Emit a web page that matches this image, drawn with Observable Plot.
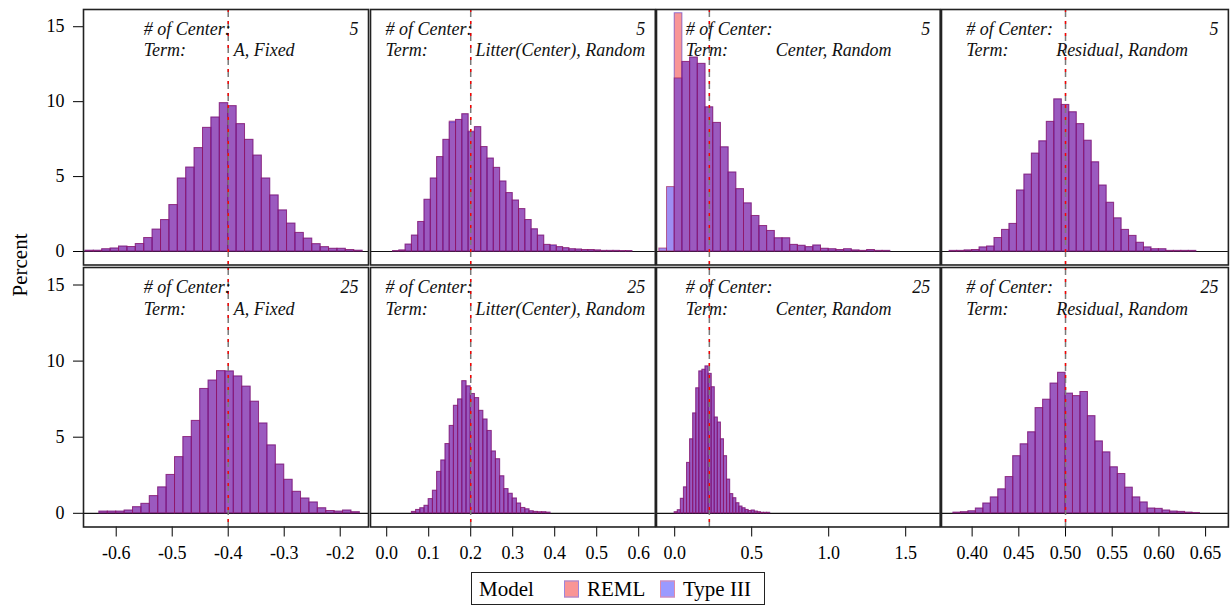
<!DOCTYPE html>
<html><head><meta charset="utf-8">
<script src="https://cdn.jsdelivr.net/npm/d3@7"></script>
<script src="https://cdn.jsdelivr.net/npm/@observablehq/plot@0.6"></script>
</head><body style="margin:0;background:#fff;font-family:'Liberation Serif',serif">
<div id="chart" style="position:relative;width:1231px;height:606px;color:#000;font-family:'Liberation Serif',serif">
<div id="ylab" style="position:absolute;left:20px;top:265px;transform:translate(-50%,-50%) rotate(-90deg);font-size:21px;white-space:nowrap;font-family:'Liberation Serif',serif">Percent</div>
<div id="legend" style="position:absolute;left:471px;top:572px;width:294px;height:33px;border:1.5px solid #222;box-sizing:border-box;font-size:21px;font-family:'Liberation Serif',serif"></div>
</div>
<script>
// ---------- data ----------
const terms = ["A, Fixed", "Litter(Center), Random", "Center, Random", "Residual, Random"];
const centerCounts = [5, 25];
const models = ["REML", "Type III"];
const trueValues = [-0.4, 0.2, 0.225, 0.5];
const xTicks = [[-0.6, -0.5, -0.4, -0.3, -0.2], [0, 0.1, 0.2, 0.3, 0.4, 0.5, 0.6], [0, 0.5, 1, 1.5], [0.40, 0.45, 0.50, 0.55, 0.60, 0.65]];
const xDecimals = [1, 1, 1, 2];
const yTicks = [0, 5, 10, 15];

// histogram bins (first bin start, bin width) per term, for 5 and 25 centers
const binStart5 = [-0.655, 0.015, -0.1, 0.376];
const binWidth5 = [0.015, 0.015, 0.05, 0.008];
const binStart25 = [-0.63, 0.06, 0.0, 0.38];
const binWidth25 = [0.015, 0.01, 0.02, 0.008];

// percent per bin, # of Center = 5
const fixed5_REML = [0.05,0.05,0.15,0.2,0.33,0.3,0.5,0.9,1.46,2.1,3.1,4.87,5.6,6.9,8.25,8.94,9.9,9.7,8.5,7.45,6.4,4.87,3.74,2.74,1.86,1.24,0.86,0.49,0.29,0.18,0.18,0.1,0.05];
const fixed5_TypeIII = [0.05,0.05,0.15,0.2,0.33,0.3,0.5,0.9,1.46,2.1,3.1,4.87,5.6,6.9,8.25,8.94,9.9,9.7,8.5,7.45,6.4,4.87,3.74,2.74,1.86,1.24,0.86,0.49,0.29,0.18,0.18,0.1,0.05];
const litter5_REML = [0.03,0.07,0.46,1.06,1.97,3.45,4.87,6.3,7.45,8.6,8.78,9.16,7.95,8.3,6.97,6.2,5.58,4.67,3.9,3.4,2.83,2.1,1.48,1.06,0.44,0.38,0.29,0.22,0.15,0.13,0.1,0.1,0.07,0.04,0.04,0.04,0.03,0.03];
const litter5_TypeIII = [0.03,0.07,0.46,1.06,1.97,3.45,4.87,6.3,7.45,8.67,8.78,9.16,8.0,8.3,6.97,6.2,5.58,4.67,3.9,3.4,2.83,2.1,1.48,1.06,0.44,0.41,0.29,0.22,0.15,0.13,0.1,0.1,0.07,0.04,0.04,0.04,0.03,0.03];
const center5_REML = [0,0,15.9,12.65,12.94,12.52,9.62,8.58,6.95,5.27,4.16,3.21,2.37,1.7,1.37,0.88,0.88,0.44,0.38,0.29,0.4,0.18,0.15,0.1,0.15,0.07,0.04,0.1,0.04,0.04];
const center5_TypeIII = [0.2,4.3,11.55,12.65,12.94,12.52,9.62,8.58,6.95,5.27,4.16,3.21,2.37,1.7,1.37,0.88,0.88,0.44,0.38,0.29,0.4,0.18,0.15,0.1,0.15,0.07,0.04,0.1,0.04,0.04];
const resid5_REML = [0.04,0.04,0.07,0.1,0.27,0.33,0.9,1.44,1.84,4.07,5.13,6.53,7.35,8.65,10.15,9.78,9.29,8.5,7.39,5.95,4.4,3.25,2.21,1.44,1.04,0.58,0.27,0.15,0.15,0.04,0.04,0.04,0.04];
const resid5_TypeIII = [0.04,0.04,0.07,0.1,0.27,0.33,0.9,1.44,1.84,4.07,5.13,6.53,7.35,8.65,10.15,9.78,9.29,8.5,7.39,5.95,4.4,3.25,2.21,1.44,1.04,0.58,0.27,0.15,0.15,0.04,0.04,0.04,0.04];

// percent per bin, # of Center = 25
const fixed25_REML = [0.11,0.11,0.11,0.18,0.4,0.62,1.13,1.7,2.52,3.69,5.01,6.07,8.17,8.72,9.34,9.32,8.99,8.32,7.33,5.9,4.46,3.2,2.2,1.41,0.97,0.71,0.33,0.15,0.11,0.18,0.07];
const fixed25_TypeIII = [0.11,0.11,0.11,0.18,0.4,0.62,1.13,1.7,2.52,3.69,5.01,6.07,8.17,8.72,9.34,9.32,8.99,8.32,7.33,5.9,4.46,3.2,2.2,1.41,0.97,0.71,0.33,0.15,0.11,0.18,0.07];
const litter25_REML = [0.09,0.22,0.33,0.49,0.93,1.48,2.72,3.47,4.55,5.74,7.06,7.48,8.68,8.34,7.84,7.57,6.73,6.16,5.41,4.06,3.55,2.43,1.59,1.28,0.97,0.64,0.35,0.26,0.13,0.09,0.07,0.07,0.04];
const litter25_TypeIII = [0.09,0.22,0.33,0.49,0.93,1.48,2.72,3.47,4.55,5.74,7.06,7.48,8.68,8.34,7.84,7.57,6.73,6.16,5.41,4.06,3.55,2.43,1.59,1.28,0.97,0.64,0.35,0.26,0.13,0.09,0.07,0.07,0.04];
const center25_REML = [0.07,0.2,0.95,1.7,3.31,4.86,6.56,8.21,9.32,9.43,9.65,9.16,8.28,6.29,5.96,4.86,3.75,2.21,1.26,0.99,0.66,0.44,0.33,0.22,0.15,0.18,0.11,0.07,0.03,0.03,0.03];
const center25_TypeIII = [0.07,0.2,0.95,1.7,3.31,4.86,6.56,8.21,9.32,9.43,9.65,9.16,8.28,6.29,5.96,4.86,3.75,2.21,1.26,0.99,0.66,0.44,0.33,0.22,0.15,0.18,0.11,0.07,0.03,0.03,0.03];
const resid25_REML = [0.04,0.07,0.13,0.31,0.64,1.04,1.57,2.38,3.75,4.53,5.32,6.91,7.46,8.52,9.23,7.86,7.7,7.97,6.38,4.72,4.0,3.02,2.58,1.68,1.04,0.71,0.31,0.29,0.18,0.11,0.09,0.04,0.02];
const resid25_TypeIII = [0.04,0.07,0.13,0.31,0.64,1.04,1.57,2.38,3.75,4.53,5.32,6.91,7.46,8.52,9.23,7.86,7.7,7.97,6.38,4.72,4.0,3.02,2.58,1.68,1.04,0.71,0.31,0.29,0.18,0.11,0.09,0.04,0.02];

// ---------- assembly ----------
const percents = [
  [[fixed5_REML, fixed5_TypeIII], [litter5_REML, litter5_TypeIII], [center5_REML, center5_TypeIII], [resid5_REML, resid5_TypeIII]],
  [[fixed25_REML, fixed25_TypeIII], [litter25_REML, litter25_TypeIII], [center25_REML, center25_TypeIII], [resid25_REML, resid25_TypeIII]]
];
const binStarts = [binStart5, binStart25];
const binWidths = [binWidth5, binWidth25];

function panelRows(ri, ci) {
  const start = binStarts[ri][ci], w = binWidths[ri][ci];
  const out = [];
  models.forEach((m, mi) => percents[ri][ci][mi].forEach((v, i) => {
    if (v > 0) out.push({model: m, x1: start + i * w, x2: start + (i + 1) * w, pct: v});
  }));
  return out;
}

// layout
const colLeft = [83, 369.5, 655.8, 941.1];
const colRight = [368, 654.3, 939.5, 1228];
const rowTop = [9, 266.5];
const rowBottom = [264.5, 526];
const xDomains = [[-0.6584, -0.1495], [-0.0386, 0.6395], [-0.1182, 1.724], [0.3672, 0.6744]];
const labelX = [-0.551, -0.003, 0.0714, 0.3936];
const fam = "Liberation Serif";
const chart = document.getElementById("chart");

for (let ri = 0; ri < 2; ri++) {
  for (let ci = 0; ci < 4; ci++) {
    const mL = ci === 0 ? 83 : 2, mR = 2, mT = 2, mB = ri === 1 ? 50 : 2;
    const w = colRight[ci] - colLeft[ci], h = rowBottom[ri] - rowTop[ri];
    const data = panelRows(ri, ci);
    const txt = {fontStyle: "italic", fontSize: 18, fill: "#111", textAnchor: "start", fontFamily: fam};
    const svg = Plot.plot({
      width: w + mL + mR, height: h + mT + mB,
      marginLeft: mL, marginRight: mR, marginTop: mT, marginBottom: mB,
      style: {background: "transparent", overflow: "visible", fontFamily: fam, fontSize: "18px", color: "#000"},
      x: {domain: xDomains[ci], ticks: xTicks[ci], tickFormat: d => d.toFixed(xDecimals[ci]), tickSize: 10, tickPadding: 9, label: null, axis: ri === 1 ? "bottom" : null},
      y: {domain: [-0.9, 16.15], ticks: yTicks, tickSize: 10, tickPadding: 9, label: null, axis: ci === 0 ? "left" : null},
      marks: [
        Plot.ruleY([0], {stroke: "#111", strokeWidth: 1.2}),
        Plot.rectY(data.filter(d => d.model === "REML"), {x1: "x1", x2: "x2", y: "pct", inset: 0, fill: "rgb(241,45,45)", fillOpacity: 0.5, stroke: "rgb(80,50,200)", strokeOpacity: 0.6, strokeWidth: 1}),
        Plot.rectY(data.filter(d => d.model === "Type III"), {x1: "x1", x2: "x2", y: "pct", inset: 0, fill: "rgb(62,30,232)", fillOpacity: 0.5, stroke: "rgb(160,20,80)", strokeOpacity: 0.6, strokeWidth: 1}),
        Plot.ruleX([trueValues[ci]], {stroke: "#7a7a7a", strokeWidth: 1.5, strokeDasharray: "8,4"}),
        Plot.ruleX([trueValues[ci]], {stroke: "#ff0000", strokeWidth: 1.4, strokeDasharray: "3,9"}),
        Plot.text(["# of Center:"], {x: labelX[ci], y: 14.85, text: d => d, ...txt}),
        Plot.text(["Term:"], {x: labelX[ci], y: 13.4, text: d => d, ...txt}),
        Plot.text([terms[ci]], {x: labelX[ci], y: 13.4, dx: 90, text: d => d, ...txt}),
        Plot.text([String(centerCounts[ri])], {y: 14.85, frameAnchor: "right", dx: -10, text: d => d, ...txt, textAnchor: "end"}),
        Plot.frame({stroke: "#222", strokeWidth: 1.6})
      ]
    });
    svg.style.position = "absolute";
    svg.style.overflow = "visible";
    svg.style.left = (colLeft[ci] - mL) + "px";
    svg.style.top = (rowTop[ri] - mT) + "px";
    svg.querySelectorAll("text").forEach(t => t.style.fontFamily = fam);
    chart.appendChild(svg);
  }
}

// legend (HTML)
const legend = document.getElementById("legend");
const swatchFill = ["#f99595", "#9a9aff"];
const swatchBorder = ["#9a86dc", "#e08aa8"];
const legendItems = [["Model", 7], [null, 92, 0], [models[0], 115], [null, 188, 1], [models[1], 211]];
for (const [label, left, si] of legendItems) {
  const s = document.createElement("span");
  s.style.position = "absolute";
  s.style.top = "50%";
  s.style.transform = "translateY(-50%)";
  s.style.left = left + "px";
  s.style.whiteSpace = "nowrap";
  s.style.fontFamily = fam;
  if (label === null) {
    s.style.width = "15px"; s.style.height = "17px"; s.style.boxSizing = "border-box";
    s.style.background = swatchFill[si]; s.style.border = "1.5px solid " + swatchBorder[si];
  } else s.textContent = label;
  legend.appendChild(s);
}
</script></body></html>
